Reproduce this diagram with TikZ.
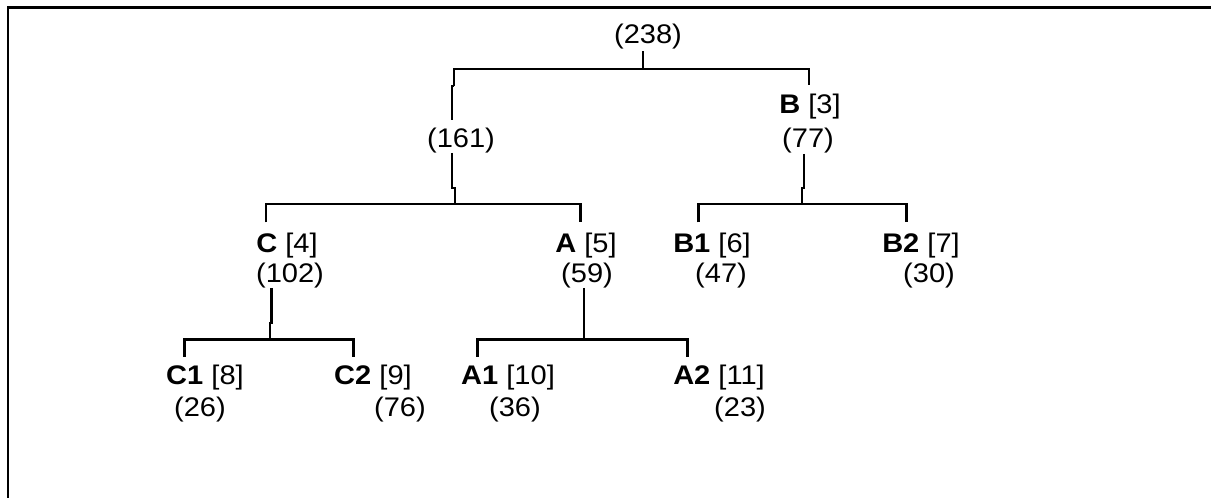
\documentclass[tikz,border=0pt]{standalone}
\usepackage{graphicx}
\usepackage{fontspec}
\setmainfont{Liberation Sans}
\newcommand{\wide}[1]{\scalebox{1.08}[1]{#1}}
\begin{document}
\begin{tikzpicture}[x=1bp,y=-1bp,
  lbl/.style={inner sep=0pt, anchor=base, font=\fontsize{27}{32}\selectfont},
  edge/.style={line width=2.6bp},
  frame/.style={line width=2.4bp}]
\useasboundingbox (0,0) rectangle (1211,498);
% frame
\coordinate (fr1) at (1211,7.5);
\coordinate (fr2) at (8,7.5);
\coordinate (fr3) at (8,498);
\draw[frame] (fr1) -- (fr2) -- (fr3);

% labels
\node[lbl] (r)   at (648,44)  {\wide{(238)}};
\node[lbl] (n161) at (461,148) {\wide{(161)}};
\node[lbl] (Bn)  at (810,114) {\wide{\textbf{B} [3]}};
\node[lbl] (Bc)  at (808,148) {\wide{(77)}};
\node[lbl] (Cn)  at (287,253) {\wide{\textbf{C} [4]}};
\node[lbl] (Cc)  at (290,283) {\wide{(102)}};
\node[lbl] (An)  at (586,253) {\wide{\textbf{A} [5]}};
\node[lbl] (Ac)  at (587,283) {\wide{(59)}};
\node[lbl] (B1n) at (712,253) {\wide{\textbf{B1} [6]}};
\node[lbl] (B1c) at (721,283) {\wide{(47)}};
\node[lbl] (B2n) at (921,253) {\wide{\textbf{B2} [7]}};
\node[lbl] (B2c) at (929,283) {\wide{(30)}};
\node[lbl] (C1n) at (205,385) {\wide{\textbf{C1} [8]}};
\node[lbl] (C1c) at (200,416) {\wide{(26)}};
\node[lbl] (C2n) at (373,385) {\wide{\textbf{C2} [9]}};
\node[lbl] (C2c) at (400,416) {\wide{(76)}};
\node[lbl] (A1n) at (508,385) {\wide{\textbf{A1} [10]}};
\node[lbl] (A1c) at (515,416) {\wide{(36)}};
\node[lbl] (A2n) at (719,385) {\wide{\textbf{A2} [11]}};
\node[lbl] (A2c) at (740,416) {\wide{(23)}};

% level 1
\coordinate (s0) at (643,51.5);
\coordinate (j0) at (643,69);
\coordinate (b0l) at (454,69);
\coordinate (b0r) at (809,69);
\coordinate (d0l) at (454,86);
\coordinate (d0l2) at (452,86);
\coordinate (d0l3) at (452,120);
\coordinate (d0r) at (809,85);
\draw[edge] (s0) -- (j0);
\draw[edge] (d0l) -- (b0l) -- (b0r) -- (d0r);
\draw[edge] (d0l) -- (d0l2) -- (d0l3);

% below (161)
\coordinate (u1) at (452,153);
\coordinate (u1b) at (452,188);
\coordinate (u1c) at (455,188);
\coordinate (j1) at (455,204);
\draw[edge] (u1) -- (u1b) -- (u1c) -- (j1);
\coordinate (b1l) at (266,204);
\coordinate (b1r) at (580.7,204);
\coordinate (d1l) at (266,222.5);
\coordinate (d1r) at (580.7,222.5);
\draw[edge] (d1l) -- (b1l) -- (b1r) -- (d1r);

% below (77)
\coordinate (u2) at (804,154);
\coordinate (u2b) at (804,188);
\coordinate (u2c) at (802,188);
\coordinate (j2) at (802,204);
\draw[edge] (u2) -- (u2b) -- (u2c) -- (j2);
\coordinate (b2l) at (698.3,204);
\coordinate (b2r) at (906.7,204);
\coordinate (d2l) at (698.3,222.5);
\coordinate (d2r) at (906.7,222.5);
\draw[edge] (d2l) -- (b2l) -- (b2r) -- (d2r);

% below (102)
\coordinate (u3) at (271.7,288);
\coordinate (u3b) at (271.7,323);
\coordinate (u3c) at (270,323);
\coordinate (j3) at (270,339.5);
\draw[edge] (u3) -- (u3b) -- (u3c) -- (j3);
\coordinate (b3l) at (184.3,339.5);
\coordinate (b3r) at (353.3,339.5);
\coordinate (d3l) at (184.3,357);
\coordinate (d3r) at (353.3,357);
\draw[edge] (d3l) -- (b3l) -- (b3r) -- (d3r);

% below (59)
\coordinate (u4) at (584,288);
\coordinate (j4) at (584,339.5);
\draw[edge] (u4) -- (j4);
\coordinate (b4l) at (477.7,339.5);
\coordinate (b4r) at (687.7,339.5);
\coordinate (d4l) at (477.7,357);
\coordinate (d4r) at (687.7,357);
\draw[edge] (d4l) -- (b4l) -- (b4r) -- (d4r);
\end{tikzpicture}
\end{document}
